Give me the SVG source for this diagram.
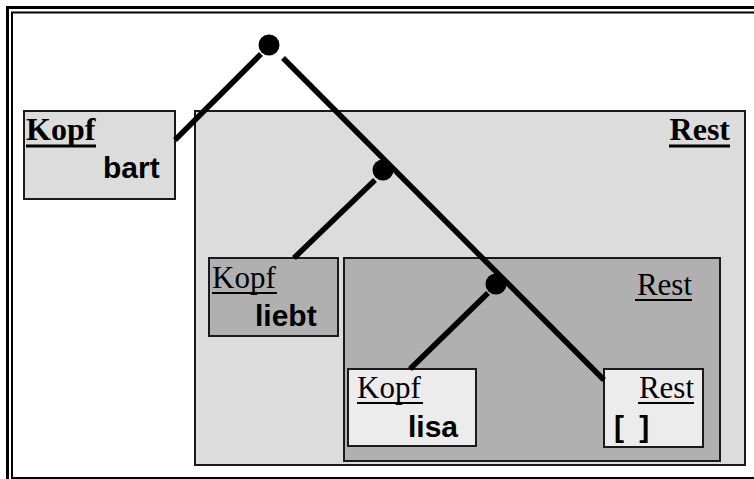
<svg xmlns="http://www.w3.org/2000/svg" width="754" height="479" viewBox="0 0 754 479">
  <style>
    .box { stroke: #1a1a1a; stroke-width: 2; }
    .l1 { fill: #dcdcdc; }
    .l2 { fill: #b0b0b0; }
    .l3 { fill: #ececec; }
    .lbl { font-family: "Liberation Serif", "Times New Roman", serif; font-size: 31px; fill: #000; }
    .lblb { font-family: "Liberation Serif", "Times New Roman", serif; font-size: 32px; font-weight: bold; fill: #000; }
    .val { font-family: "Liberation Sans", Arial, sans-serif; font-size: 30px; font-weight: bold; fill: #000; }
    .ul { stroke: #000; stroke-width: 2; }
    .ulb { stroke: #000; stroke-width: 3; }
    .edge { stroke: #000; stroke-width: 5.5; fill: none; }
    .dot { fill: #000; }
  </style>

  <rect width="754" height="479" fill="#fff"/>

  <!-- double frame -->
  <g id="frame" fill="none" stroke="#000">
    <rect x="7.5" y="7.5" width="780" height="500" stroke-width="3"/>
    <rect x="12" y="12.5" width="780" height="465.5" stroke-width="2"/>
  </g>

  <!-- outer list: head "bart" -->
  <g id="kopf-bart">
    <rect class="box l1" x="24" y="111" width="151" height="88"/>
    <text class="lblb" x="26" y="140">Kopf</text>
    <line class="ulb" x1="26" y1="146" x2="96" y2="146"/>
    <text class="val" x="103" y="178">bart</text>
  </g>

  <!-- outer list: rest -->
  <g id="rest-1">
    <rect class="box l1" x="195" y="111" width="550" height="354"/>
    <text class="lblb" x="730" y="140" text-anchor="end">Rest</text>
    <line class="ulb" x1="669" y1="146" x2="730" y2="146"/>
  </g>

  <!-- second level: head "liebt" -->
  <g id="kopf-liebt">
    <rect class="box l2" x="209" y="258" width="129" height="78"/>
    <text class="lbl" x="212" y="288">Kopf</text>
    <line class="ul" x1="212" y1="293" x2="277" y2="293"/>
    <text class="val" x="255" y="326">liebt</text>
  </g>

  <!-- second level: rest -->
  <g id="rest-2">
    <rect class="box l2" x="344" y="258" width="376" height="203"/>
    <text class="lbl" x="692" y="295" text-anchor="end">Rest</text>
    <line class="ul" x1="635" y1="300" x2="692" y2="300"/>
  </g>

  <!-- third level: head "lisa" -->
  <g id="kopf-lisa">
    <rect class="box l3" x="348" y="369" width="128" height="77"/>
    <text class="lbl" x="357" y="398">Kopf</text>
    <line class="ul" x1="357" y1="403" x2="423" y2="403"/>
    <text class="val" x="408" y="437">lisa</text>
  </g>

  <!-- third level: empty rest -->
  <g id="rest-3">
    <rect class="box l3" x="604" y="369" width="99" height="78"/>
    <text class="lbl" x="694" y="398" text-anchor="end">Rest</text>
    <line class="ul" x1="638" y1="403" x2="694" y2="403"/>
    <text class="val" x="614" y="437" font-size="29" word-spacing="7">[ ]</text>
  </g>

  <!-- connectors -->
  <g id="connectors">
    <line class="edge" x1="261" y1="54" x2="175" y2="140"/>
    <line class="edge" x1="283" y1="58" x2="604" y2="380"/>
    <line class="edge" x1="375" y1="180" x2="294" y2="258"/>
    <line class="edge" x1="488" y1="293" x2="410" y2="369"/>
    <circle class="dot" cx="269" cy="45" r="10.5"/>
    <circle class="dot" cx="383" cy="170" r="10.5"/>
    <circle class="dot" cx="496" cy="284" r="10.5"/>
  </g>
</svg>
